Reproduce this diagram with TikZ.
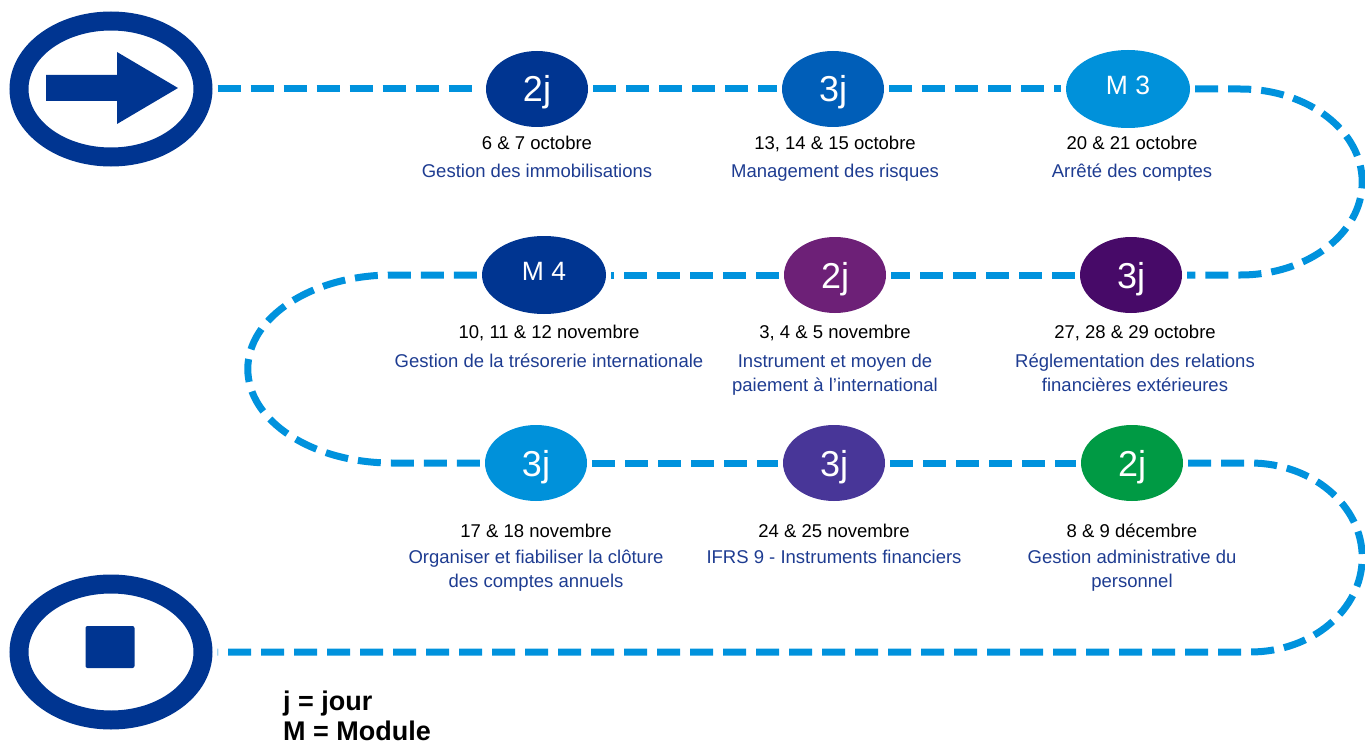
\documentclass[tikz,border=0pt]{standalone}
\usepackage{fontspec}
\setmainfont{Liberation Sans}
\usetikzlibrary{shapes.geometric}
\definecolor{navy}{RGB}{0,53,145}
\definecolor{midblue}{RGB}{0,94,184}
\definecolor{skyblue}{RGB}{0,145,218}
\definecolor{routeblue}{RGB}{0,146,221}
\definecolor{plum}{RGB}{109,32,119}
\definecolor{grape}{RGB}{71,10,104}
\definecolor{indigo}{RGB}{72,54,152}
\definecolor{leaf}{RGB}{0,154,68}
\definecolor{titleblue}{RGB}{30,60,145}

\tikzset{
  route/.style={routeblue, line width=7pt, dash pattern=on 23pt off 10pt, shorten >=5pt, shorten <=5pt},
  stage/.style={ellipse, fill=#1, text=white, minimum width=102pt, minimum height=76pt, inner sep=0pt,
    font=\fontsize{36}{36}\selectfont, text height=26pt, text depth=0pt},
  module/.style={stage=#1, minimum width=124pt, minimum height=78pt, font=\fontsize{26.5}{26.5}\selectfont,
    text height=19pt, text depth=8pt},
  date/.style={anchor=base, inner sep=0pt, font=\fontsize{18.5}{24}\selectfont},
  course/.style={anchor=north, align=center, inner sep=0pt, text=titleblue, font=\fontsize{18.5}{24}\selectfont},
  endpoint/.style={ellipse, draw=navy, line width=19pt, minimum width=184pt, minimum height=136pt},
  legend/.style={anchor=base west, inner sep=0pt, font=\bfseries\fontsize{27}{27}\selectfont},
}

\begin{document}
\begin{tikzpicture}[x=1pt,y=-1pt]
\useasboundingbox (0,0) rectangle (1365,746);

% debut et fin
\node[endpoint] (start) at (111,89) {};
\node[endpoint] (stop) at (111,652) {};
\fill[navy, shift={(start.center)}] (-65,-14) -- (6,-14) -- (6,-37) -- (67,-1) -- (6,35) -- (6,12) -- (-65,12) -- cycle;
\fill[navy, rounded corners=2pt, shift={(stop.center)}] (-25.5,-26) rectangle (23.5,16);

% etapes
\node[stage=navy] (s1) at (537,89) {2j};
\node[stage=midblue] (s2) at (833,89) {3j};
\node[module=skyblue] (s3) at (1128,89) {M 3};
\node[module=navy] (s4) at (544,275) {M 4};
\node[stage=plum] (s5) at (835,275) {2j};
\node[stage=grape] (s6) at (1131,275) {3j};
\node[stage=skyblue] (s7) at (536,463) {3j};
\node[stage=indigo] (s8) at (834,463) {3j};
\node[stage=leaf] (s9) at (1132,463) {2j};

% dates et intitules
\node[date] (d1) at (537,150) {6 \& 7 octobre};
\node[course] (c1) at (537,164) {Gestion des immobilisations};
\node[date] (d2) at (835,150) {13, 14 \& 15 octobre};
\node[course] (c2) at (835,164) {Management des risques};
\node[date] (d3) at (1132,150) {20 \& 21 octobre};
\node[course] (c3) at (1132,164) {Arrêté des comptes};

\node[date] (d4) at (549,338) {10, 11 \& 12 novembre};
\node[course] (c4) at (549,354) {Gestion de la trésorerie internationale};
\node[date] (d5) at (835,338) {3, 4 \& 5 novembre};
\node[course] (c5) at (835,354) {Instrument et moyen de\\paiement à l’international};
\node[date] (d6) at (1135,338) {27, 28 \& 29 octobre};
\node[course] (c6) at (1135,354) {Réglementation des relations\\financières extérieures};

\node[date] (d7) at (536,537) {17 \& 18 novembre};
\node[course] (c7) at (536,550) {Organiser et fiabiliser la clôture\\des comptes annuels};
\node[date] (d8) at (834,537) {24 \& 25 novembre};
\node[course] (c8) at (834,550) {IFRS 9 - Instruments financiers};
\node[date] (d9) at (1132,537) {8 \& 9 décembre};
\node[course] (c9) at (1132,550) {Gestion administrative du\\personnel};

% parcours
\draw[route] (start.east) -- (s1);
\draw[route] (s1) -- (s2);
\draw[route] (s2) -- (s3);
\draw[route] (s3.east) -- ++(50,0) arc[start angle=-90, end angle=90, x radius=122, y radius=93] -- (s6.east);
\draw[route] (s6) -- (s5);
\draw[route] (s5) -- (s4);
\draw[route] (s4.west) -- ++(-90,0) arc[start angle=-90, end angle=-270, x radius=144, y radius=94] -- (s7.west);
\draw[route] (s7) -- (s8);
\draw[route] (s8) -- (s9);
\draw[route] (s9.east) -- ++(67,0) arc[start angle=-90, end angle=90, x radius=112, y radius=94.5] -- (stop.east);

% legende
\node[legend] (key1) at (283,710) {j = jour};
\node[legend] (key2) at (283,740) {M = Module};
\end{tikzpicture}
\end{document}
